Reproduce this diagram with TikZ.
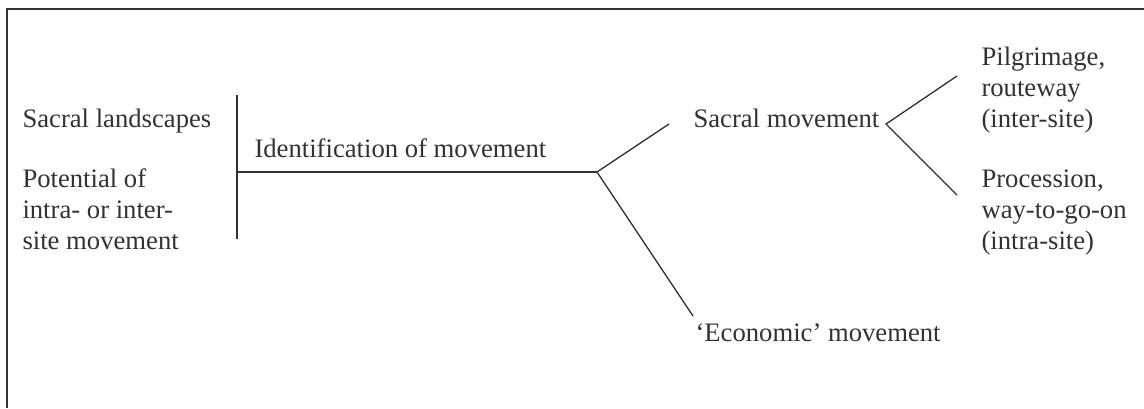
\documentclass[tikz,border=0pt]{standalone}
\usepackage{fontspec}
\setmainfont{Liberation Serif}
\definecolor{ink}{RGB}{50,50,50}

\tikzset{every picture/.style={line width=0.75pt}}

\begin{document}
\begin{tikzpicture}[x=0.75pt,y=0.75pt,yscale=-1,xscale=1,
  lbl/.style={anchor=base west,inner sep=0pt,align=left,text=ink,font=\fontsize{20}{23}\selectfont},
  branch/.style={draw=ink,line width=1pt},
  frame/.style={draw=ink,line width=1.5pt}]
  \useasboundingbox (0,0) rectangle (1144,408);

  % open frame, left and top only
  \draw [frame] (7,408) -- (7,9) -- (1144,9) ;

  % junction points
  \coordinate (bartop) at (237,95);
  \coordinate (barbot) at (237,239);
  \coordinate (stem) at (237,172);
  \coordinate (fork) at (597,172);
  \coordinate (upend) at (669,124);
  \coordinate (lowend) at (693,316);
  \coordinate (sfork) at (886,124);
  \coordinate (pilend) at (957,76);
  \coordinate (proend) at (957,195);

  \draw [branch] (bartop) -- (barbot) ;
  \draw [branch] (stem) -- (fork) ;
  \draw [branch] (fork) -- (upend) ;
  \draw [branch] (fork) -- (lowend) ;
  \draw [branch] (pilend) -- (sfork) -- (proend) ;

  % multi-line labels sit on the baseline of their last line
  \node [lbl] (landscapes) at (22,127) {Sacral landscapes};
  \node [lbl] (potential) at (22,249) {Potential of\\intra- or inter-\\site movement};
  \node [lbl] (ident) at (254,157) {Identification of movement};
  \node [lbl] (sacral) at (693,127) {Sacral movement};
  \node [lbl] (pilgrim) at (981,127) {Pilgrimage,\\routeway\\(inter-site)};
  \node [lbl] (procession) at (981,249) {Procession,\\way-to-go-on\\(intra-site)};
  \node [lbl] (economic) at (695,341) {‘Economic’ movement};

\end{tikzpicture}
\end{document}
